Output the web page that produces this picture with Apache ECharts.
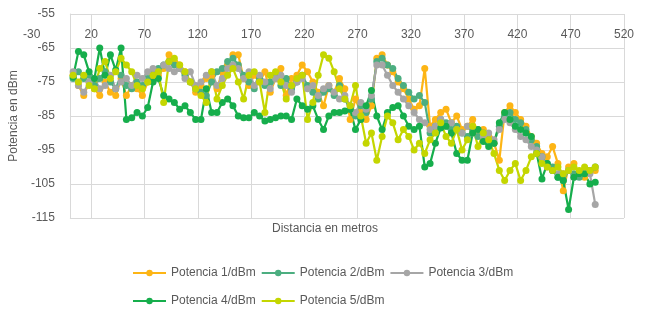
<!DOCTYPE html>
<html><head><meta charset="utf-8">
<script src="https://cdn.jsdelivr.net/npm/echarts@6/dist/echarts.min.js"></script>
<style>html,body{margin:0;padding:0;background:#fff}#c{width:650px;height:317px}</style>
</head><body><div id="c"></div>
<script>
const distancias = [3,8,13,18,23,28,33,38,43,48,53,58,63,68,73,78,83,88,93,98,103,108,113,118,123,128,133,138,143,148,153,158,163,168,173,178,183,188,193,198,203,208,213,218,223,228,233,238,243,248,253,258,263,268,273,278,283,288,293,298,303,308,313,318,323,328,333,338,343,348,353,358,363,368,373,378,383,388,393,398,403,408,413,418,423,428,433,438,443,448,453,458,463,468,473,478,483,488,493];
const potencia1 = [-73,-76,-79,-75,-77,-79,-75,-78,-79,-74,-79,-76,-77,-79,-75,-74,-73,-71,-67,-69,-70,-72,-75,-78,-76,-74,-73,-77,-72,-70,-67,-67,-74,-76,-73,-75,-72,-78,-74,-71,-79,-74,-73,-70,-72,-75,-78,-82,-76,-78,-74,-77,-86,-80,-84,-86,-82,-68,-67,-70,-72,-75,-77,-80,-83,-82,-71,-88,-86,-84,-83,-87,-85,-89,-88,-86,-90,-89,-91,-93,-98,-84,-82,-84,-86,-88,-91,-93,-96,-97,-94,-99,-107,-100,-99,-102,-103,-101,-101];
const potencia2 = [-74,-72,-74,-73,-76,-74,-72,-75,-77,-73,-76,-77,-75,-76,-74,-72,-71,-70,-69,-70,-71,-73,-75,-77,-78,-79,-75,-72,-71,-69,-68,-70,-73,-75,-77,-74,-76,-75,-73,-76,-74,-77,-75,-73,-76,-78,-80,-78,-77,-79,-76,-80,-83,-85,-82,-84,-80,-69,-68,-70,-71,-74,-76,-78,-80,-79,-81,-90,-88,-86,-87,-89,-88,-90,-91,-89,-91,-90,-92,-93,-88,-85,-84,-86,-87,-89,-92,-94,-97,-99,-100,-103,-104,-101,-102,-103,-101,-101,-100];
const potencia3 = [-72,-76,-78,-75,-74,-77,-76,-73,-77,-75,-74,-76,-73,-74,-72,-71,-72,-70,-71,-72,-71,-74,-72,-76,-75,-73,-72,-76,-74,-71,-70,-71,-74,-72,-76,-73,-75,-77,-74,-73,-76,-78,-75,-74,-77,-76,-79,-77,-76,-78,-80,-79,-82,-84,-81,-83,-79,-70,-70,-73,-76,-78,-80,-82,-84,-86,-87,-89,-88,-86,-88,-87,-89,-90,-88,-90,-89,-91,-90,-92,-89,-86,-87,-89,-91,-92,-94,-95,-97,-100,-101,-102,-102,-101,-103,-102,-101,-102,-111];
const potencia4 = [-73.5,-66,-67,-72,-74,-65,-73,-67,-71.5,-65,-86,-85.5,-84,-85,-82.5,-75,-74,-79,-80,-81,-83,-82,-84,-86,-86,-77,-84,-84,-81,-80,-82,-85,-85.5,-85.5,-84,-85,-86.5,-86,-85.5,-85,-85,-86,-80,-82,-83,-82,-86,-89,-85,-84,-84,-83.5,-83,-89,-86,-82,-77.5,-85,-89,-84,-82.5,-82,-85,-88,-89,-88,-100,-99,-93,-88.5,-88,-90,-96,-98,-98,-90,-89,-92.5,-94,-93,-87,-84,-86,-88,-89,-90,-91,-96,-103.5,-99,-101,-103,-104,-112.5,-103,-102,-102,-105,-104.5];
const potencia5 = [-73,-75,-73,-76,-77,-71,-69,-74,-72,-68,-70,-72,-76,-77,-75,-73,-72,-81,-69,-68,-70,-72,-75,-77,-79,-81,-72,-80,-76,-73,-71,-75,-80,-73,-72,-75,-84,-73,-72,-75,-80,-76,-74,-73,-86,-81,-73,-67,-68,-72,-77,-80,-82,-76,-85,-93,-90,-98,-91,-85,-87,-92,-89,-91,-95,-93,-96,-92,-90,-87,-91,-93,-89,-95,-92,-88,-94,-90,-92,-96,-101,-104,-101,-99,-104,-101,-97,-96,-99,-100,-101,-100,-102,-101,-100,-101,-100,-101,-100];
const nombres = ['Potencia 1/dBm','Potencia 2/dBm','Potencia 3/dBm','Potencia 4/dBm','Potencia 5/dBm'];
const xTicks = [20,70,120,170,220,270,320,370,420,470,520];
const yTicks = [-115,-105,-95,-85,-75,-65,-55];
const colores = ['#FDB515','#4CAE80','#A6A6A6','#16AE4C','#C4D600'];

const valores = [potencia1,potencia2,potencia3,potencia4,potencia5];
const font = 'Liberation Sans, Arial, sans-serif';
const txt = '#595959';
const chart = echarts.init(document.getElementById('c'), null, {renderer:'canvas'});
chart.setOption({
  animation:false,
  textStyle:{fontFamily:font},
  grid:{left:65,right:26,top:14,bottom:99,containLabel:false},
  xAxis:{type:'value',min:0,max:520,position:'top',
    axisLine:{show:false},axisTick:{show:false,customValues:xTicks},
    axisLabel:{inside:true,margin:15,color:txt,fontSize:12,fontFamily:font,customValues:xTicks},
    splitLine:{show:true,lineStyle:{color:'#D9D9D9',width:1}}},
  yAxis:{type:'value',min:-115,max:-55,
    name:'Potencia en dBm',nameLocation:'middle',nameGap:47,nameTextStyle:{color:txt,fontSize:12,fontFamily:font},
    axisLine:{show:true,lineStyle:{color:'#D9D9D9'}},axisTick:{show:false,customValues:yTicks},
    axisLabel:{margin:15,color:txt,fontSize:12,fontFamily:font,customValues:yTicks},
    splitLine:{show:true,lineStyle:{color:'#D9D9D9',width:1}}},
  legend:[
    {data:nombres.slice(0,3),left:132,top:267,padding:0,itemWidth:33,itemHeight:8,itemGap:5,textStyle:{color:txt,fontSize:12,fontFamily:font}},
    {data:nombres.slice(3),left:132,top:295,padding:0,itemWidth:33,itemHeight:8,itemGap:5,textStyle:{color:txt,fontSize:12,fontFamily:font}}
  ],
  graphic:[
    {type:'text',left:23,top:29,style:{text:'-30',fill:txt,font:'12px '+font}},
    {type:'text',left:'center',top:223,style:{text:'Distancia en metros',fill:txt,font:'12px '+font},x:-16}
  ],
  series: valores.map((v,i)=>({
    name:nombres[i],type:'line',
    data:distancias.map((d,j)=>[d,v[j]]),
    symbol:'circle',symbolSize:7,
    itemStyle:{color:colores[i]},
    lineStyle:{color:colores[i],width:2.2}
  }))
});
</script></body></html>
